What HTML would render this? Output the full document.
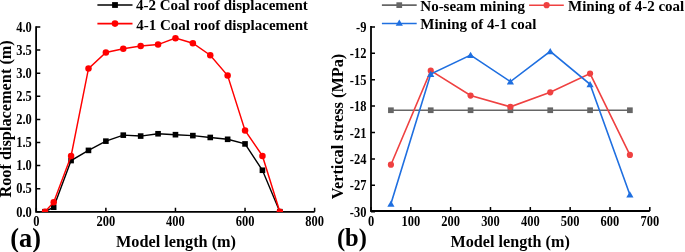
<!DOCTYPE html>
<html><head><meta charset="utf-8"><style>
html,body{margin:0;padding:0;background:#fff;}
body{width:685px;height:252px;overflow:hidden;position:relative;}
</style></head><body>
<svg width="685" height="252" viewBox="0 0 685 252" style="position:absolute;left:0;top:0;will-change:transform">
<style>text{font-family:'Liberation Serif',serif;font-weight:bold;fill:#000}</style>
<defs><clipPath id="ca"><rect x="36" y="0" width="290" height="212.0"/></clipPath>
<clipPath id="cb"><rect x="371" y="0" width="300" height="211.5"/></clipPath></defs>
<path d="M36.10,26.20 V211.80 H314.62" fill="none" stroke="#000" stroke-width="1.8"/>
<text transform="translate(31.80,216.50) scale(1,1.1)" font-size="12.5" text-anchor="end">0.0</text>
<text transform="translate(31.80,193.40) scale(1,1.1)" font-size="12.5" text-anchor="end">0.5</text>
<text transform="translate(31.80,170.30) scale(1,1.1)" font-size="12.5" text-anchor="end">1.0</text>
<text transform="translate(31.80,147.20) scale(1,1.1)" font-size="12.5" text-anchor="end">1.5</text>
<text transform="translate(31.80,124.10) scale(1,1.1)" font-size="12.5" text-anchor="end">2.0</text>
<text transform="translate(31.80,101.00) scale(1,1.1)" font-size="12.5" text-anchor="end">2.5</text>
<text transform="translate(31.80,77.90) scale(1,1.1)" font-size="12.5" text-anchor="end">3.0</text>
<text transform="translate(31.80,54.80) scale(1,1.1)" font-size="12.5" text-anchor="end">3.5</text>
<text transform="translate(31.80,31.70) scale(1,1.1)" font-size="12.5" text-anchor="end">4.0</text>
<text transform="translate(36.30,225.9) scale(1,1.1)" font-size="12.5" text-anchor="middle">0</text>
<text transform="translate(105.88,225.9) scale(1,1.1)" font-size="12.5" text-anchor="middle">200</text>
<text transform="translate(175.46,225.9) scale(1,1.1)" font-size="12.5" text-anchor="middle">400</text>
<text transform="translate(245.04,225.9) scale(1,1.1)" font-size="12.5" text-anchor="middle">600</text>
<text transform="translate(314.62,225.9) scale(1,1.1)" font-size="12.5" text-anchor="middle">800</text>
<path d="M36.30,211.80 h4 M36.30,188.70 h4 M36.30,165.60 h4 M36.30,142.50 h4 M36.30,119.40 h4 M36.30,96.30 h4 M36.30,73.20 h4 M36.30,50.10 h4 M36.30,27.00 h4 M36.30,211.80 v-4 M105.88,211.80 v-4 M175.46,211.80 v-4 M245.04,211.80 v-4 M314.62,211.80 v-4" stroke="#000" stroke-width="1.5" fill="none"/>
<text x="176.0" y="247.4" font-size="16.25" text-anchor="middle">Model length (m)</text>
<text transform="translate(11.2,118.9) rotate(-90)" font-size="16.3" text-anchor="middle">Roof displacement (m)</text>
<text x="10.3" y="246.8" font-size="26.3">(a)</text>
<g clip-path="url(#ca)">
<polyline points="45.00,211.70 53.69,207.22 71.09,160.56 88.48,150.39 105.88,141.15 123.27,135.15 140.67,136.07 158.06,133.76 175.46,134.68 192.86,135.61 210.25,137.46 227.64,139.30 245.04,143.92 262.44,170.26 279.83,211.70" fill="none" stroke="#000" stroke-width="1.4"/>
<rect x="42.20" y="208.90" width="5.6" height="5.6" fill="#000"/>
<rect x="50.89" y="204.42" width="5.6" height="5.6" fill="#000"/>
<rect x="68.29" y="157.76" width="5.6" height="5.6" fill="#000"/>
<rect x="85.68" y="147.59" width="5.6" height="5.6" fill="#000"/>
<rect x="103.08" y="138.35" width="5.6" height="5.6" fill="#000"/>
<rect x="120.47" y="132.35" width="5.6" height="5.6" fill="#000"/>
<rect x="137.87" y="133.27" width="5.6" height="5.6" fill="#000"/>
<rect x="155.26" y="130.96" width="5.6" height="5.6" fill="#000"/>
<rect x="172.66" y="131.88" width="5.6" height="5.6" fill="#000"/>
<rect x="190.06" y="132.81" width="5.6" height="5.6" fill="#000"/>
<rect x="207.45" y="134.66" width="5.6" height="5.6" fill="#000"/>
<rect x="224.84" y="136.50" width="5.6" height="5.6" fill="#000"/>
<rect x="242.24" y="141.12" width="5.6" height="5.6" fill="#000"/>
<rect x="259.63" y="167.46" width="5.6" height="5.6" fill="#000"/>
<rect x="277.03" y="208.90" width="5.6" height="5.6" fill="#000"/>
<polyline points="45.00,211.70 53.69,202.14 71.09,155.94 88.48,68.62 105.88,52.45 123.27,48.75 140.67,45.98 158.06,44.59 175.46,38.13 192.86,43.21 210.25,55.22 227.64,75.55 245.04,130.53 262.44,155.94 279.83,211.70" fill="none" stroke="#f00" stroke-width="1.45"/>
<circle cx="45.00" cy="211.70" r="3.25" fill="#f00"/>
<circle cx="53.69" cy="202.14" r="3.25" fill="#f00"/>
<circle cx="71.09" cy="155.94" r="3.25" fill="#f00"/>
<circle cx="88.48" cy="68.62" r="3.25" fill="#f00"/>
<circle cx="105.88" cy="52.45" r="3.25" fill="#f00"/>
<circle cx="123.27" cy="48.75" r="3.25" fill="#f00"/>
<circle cx="140.67" cy="45.98" r="3.25" fill="#f00"/>
<circle cx="158.06" cy="44.59" r="3.25" fill="#f00"/>
<circle cx="175.46" cy="38.13" r="3.25" fill="#f00"/>
<circle cx="192.86" cy="43.21" r="3.25" fill="#f00"/>
<circle cx="210.25" cy="55.22" r="3.25" fill="#f00"/>
<circle cx="227.64" cy="75.55" r="3.25" fill="#f00"/>
<circle cx="245.04" cy="130.53" r="3.25" fill="#f00"/>
<circle cx="262.44" cy="155.94" r="3.25" fill="#f00"/>
<circle cx="279.83" cy="211.70" r="3.25" fill="#f00"/>
</g>
<path d="M97.4,5.1 H132.5" stroke="#000" stroke-width="1.5"/>
<rect x="112.1" y="2.1" width="5.8" height="5.8" fill="#000"/>
<path d="M97.4,23.6 H132.5" stroke="#f00" stroke-width="1.6"/>
<circle cx="115" cy="23.6" r="3.3" fill="#f00"/>
<text x="136" y="10" font-size="15">4-2 Coal roof displacement</text>
<text x="136.3" y="29.5" font-size="15">4-1 Coal roof displacement</text>
<path d="M371.00,26.10 V211.00 H649.81" fill="none" stroke="#000" stroke-width="1.8"/>
<text transform="translate(366.50,31.90) scale(1,1.1)" font-size="12.5" text-anchor="end">-9</text>
<text transform="translate(366.50,58.30) scale(1,1.1)" font-size="12.5" text-anchor="end">-12</text>
<text transform="translate(366.50,84.70) scale(1,1.1)" font-size="12.5" text-anchor="end">-15</text>
<text transform="translate(366.50,111.10) scale(1,1.1)" font-size="12.5" text-anchor="end">-18</text>
<text transform="translate(366.50,137.50) scale(1,1.1)" font-size="12.5" text-anchor="end">-21</text>
<text transform="translate(366.50,163.90) scale(1,1.1)" font-size="12.5" text-anchor="end">-24</text>
<text transform="translate(366.50,190.30) scale(1,1.1)" font-size="12.5" text-anchor="end">-27</text>
<text transform="translate(366.50,216.70) scale(1,1.1)" font-size="12.5" text-anchor="end">-30</text>
<text transform="translate(371.00,225.5) scale(1,1.1)" font-size="12.5" text-anchor="middle">0</text>
<text transform="translate(410.83,225.5) scale(1,1.1)" font-size="12.5" text-anchor="middle">100</text>
<text transform="translate(450.66,225.5) scale(1,1.1)" font-size="12.5" text-anchor="middle">200</text>
<text transform="translate(490.49,225.5) scale(1,1.1)" font-size="12.5" text-anchor="middle">300</text>
<text transform="translate(530.32,225.5) scale(1,1.1)" font-size="12.5" text-anchor="middle">400</text>
<text transform="translate(570.15,225.5) scale(1,1.1)" font-size="12.5" text-anchor="middle">500</text>
<text transform="translate(609.98,225.5) scale(1,1.1)" font-size="12.5" text-anchor="middle">600</text>
<text transform="translate(649.81,225.5) scale(1,1.1)" font-size="12.5" text-anchor="middle">700</text>
<path d="M371.00,26.90 h4 M371.00,53.30 h4 M371.00,79.70 h4 M371.00,106.10 h4 M371.00,132.50 h4 M371.00,158.90 h4 M371.00,185.30 h4 M371.00,211.70 h4 M371.00,211.00 v-4 M410.83,211.00 v-4 M450.66,211.00 v-4 M490.49,211.00 v-4 M530.32,211.00 v-4 M570.15,211.00 v-4 M609.98,211.00 v-4 M649.81,211.00 v-4" stroke="#000" stroke-width="1.5" fill="none"/>
<text x="510.2" y="246.8" font-size="16.15" text-anchor="middle">Model length (m)</text>
<text transform="translate(342.9,126.5) rotate(-90)" font-size="16.3" text-anchor="middle">Vertical stress (MPa)</text>
<text x="336.9" y="246.3" font-size="24.5">(b)</text>
<g clip-path="url(#cb)">
<polyline points="390.92,110.24 430.75,110.24 470.57,110.24 510.40,110.24 550.24,110.24 590.07,110.24 629.89,110.24" fill="none" stroke="#666666" stroke-width="1.6"/>
<rect x="388.06" y="107.39" width="5.7" height="5.7" fill="#666666"/>
<rect x="427.89" y="107.39" width="5.7" height="5.7" fill="#666666"/>
<rect x="467.72" y="107.39" width="5.7" height="5.7" fill="#666666"/>
<rect x="507.55" y="107.39" width="5.7" height="5.7" fill="#666666"/>
<rect x="547.38" y="107.39" width="5.7" height="5.7" fill="#666666"/>
<rect x="587.22" y="107.39" width="5.7" height="5.7" fill="#666666"/>
<rect x="627.04" y="107.39" width="5.7" height="5.7" fill="#666666"/>
<polyline points="390.92,164.71 430.75,70.64 470.57,95.54 510.40,106.81 550.24,92.29 590.07,73.54 629.89,154.94" fill="none" stroke="#ef4141" stroke-width="1.6"/>
<circle cx="390.92" cy="164.71" r="3.1" fill="#ef4141"/>
<circle cx="430.75" cy="70.64" r="3.1" fill="#ef4141"/>
<circle cx="470.57" cy="95.54" r="3.1" fill="#ef4141"/>
<circle cx="510.40" cy="106.81" r="3.1" fill="#ef4141"/>
<circle cx="550.24" cy="92.29" r="3.1" fill="#ef4141"/>
<circle cx="590.07" cy="73.54" r="3.1" fill="#ef4141"/>
<circle cx="629.89" cy="154.94" r="3.1" fill="#ef4141"/>
<polyline points="390.92,203.78 430.75,74.07 470.57,55.15 510.40,81.64 550.24,51.28 590.07,84.28 629.89,194.72" fill="none" stroke="#1f6fe0" stroke-width="1.6"/>
<path d="M390.92,200.38 L394.52,206.68 L387.31,206.68 Z" fill="#1f6fe0"/>
<path d="M430.75,70.67 L434.35,76.97 L427.14,76.97 Z" fill="#1f6fe0"/>
<path d="M470.57,51.75 L474.18,58.05 L466.97,58.05 Z" fill="#1f6fe0"/>
<path d="M510.40,78.24 L514.00,84.54 L506.80,84.54 Z" fill="#1f6fe0"/>
<path d="M550.24,47.88 L553.84,54.18 L546.63,54.18 Z" fill="#1f6fe0"/>
<path d="M590.07,80.88 L593.67,87.18 L586.47,87.18 Z" fill="#1f6fe0"/>
<path d="M629.89,191.32 L633.50,197.62 L626.29,197.62 Z" fill="#1f6fe0"/>
</g>
<path d="M381.9,5.1 H416.7" stroke="#666666" stroke-width="1.6"/>
<rect x="396.4" y="2.3" width="5.7" height="5.7" fill="#666666"/>
<path d="M381.9,23.5 H416.7" stroke="#1f6fe0" stroke-width="1.6"/>
<path d="M399.30,19.50 L402.90,25.80 L395.70,25.80 Z" fill="#1f6fe0"/>
<path d="M529.1,5.2 H563.8" stroke="#ef4141" stroke-width="1.6"/>
<circle cx="546.60" cy="5.20" r="3.1" fill="#ef4141"/>
<text x="420.3" y="10.5" font-size="15">No-seam mining</text>
<text x="420.3" y="28.9" font-size="15">Mining of 4-1 coal</text>
<text x="568" y="10.5" font-size="15">Mining of 4-2 coal</text>
</svg>
</body></html>
